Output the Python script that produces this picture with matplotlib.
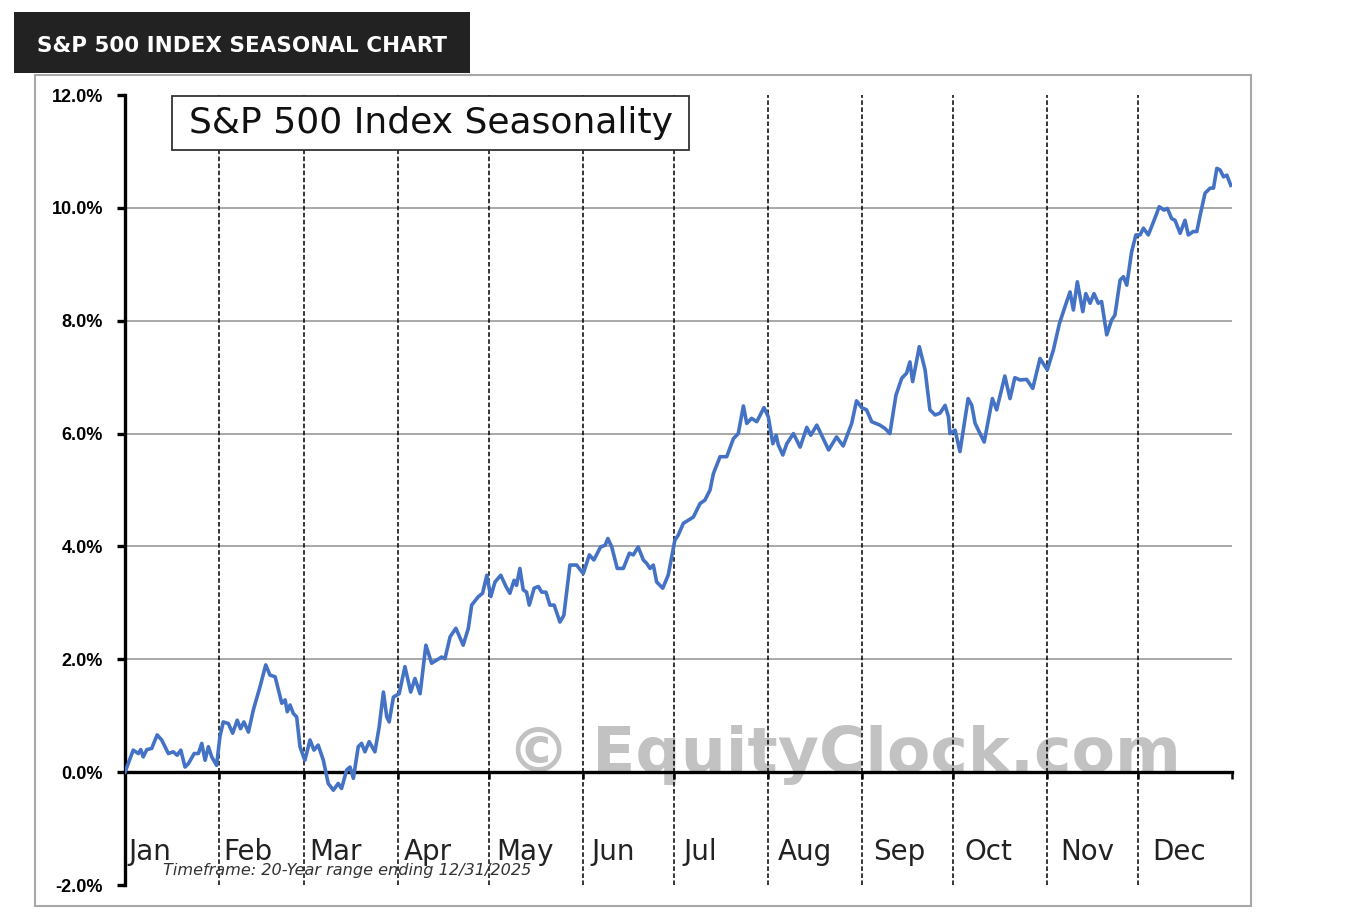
import matplotlib
matplotlib.use("Agg")
import matplotlib.pyplot as plt
from matplotlib.patches import Rectangle

# day of year (0..365) and average seasonal return in %
days = [0, 2.7, 4.4, 5.2, 6.0, 7.2, 8.8, 10.6, 12.1, 14.3, 15.9, 17.2, 18.4, 19.8, 20.9,
        22.8, 24.2, 25.3, 26.4, 27.5, 28.6, 30.2, 31.3, 32.4, 34.1, 35.5, 37.0, 38.1, 39.2,
        40.7, 42.3, 44.5, 46.4, 47.8, 49.5, 51.7, 52.8, 53.5, 54.4, 55.5, 56.6, 57.7, 59.3,
        61.0, 62.3, 63.7, 65.4, 67.0, 68.7, 70.3, 71.4, 73.1, 74.2, 75.3, 76.9, 78.0, 79.1,
        80.5, 82.4, 83.8, 85.2, 86.3, 87.1, 88.5, 90.4, 92.3, 94.2, 95.6, 97.3, 99.2, 101.1,
        104.4, 105.5, 107.2, 109.1, 111.5, 113.2, 114.3, 116.5, 117.9, 119.3, 120.6, 122.0,
        123.9, 125.6, 126.9, 128.3, 129.1, 130.2, 131.3, 132.4, 133.3, 134.9, 136.3, 137.4,
        138.8, 140.1, 141.5, 143.4, 144.7, 146.7, 148.9, 151.1, 153.1, 154.6, 156.8, 158.3,
        159.2, 160.5, 162.3, 164.3, 166.3, 167.6, 169.2, 170.9, 172.0, 173.1, 174.2, 175.3,
        177.3, 179.1, 181.3, 182.4, 184.1, 187.4, 189.6, 191.2, 192.9, 194.0, 196.2, 198.4,
        200.6, 202.2, 203.9, 205.0, 206.6, 208.3, 210.7, 212.1, 213.6, 214.7, 215.4, 216.9,
        218.2, 220.4, 222.6, 224.8, 226.1, 228.1, 229.7, 232.0, 234.6, 236.8, 239.6, 241.2,
        242.9, 244.5, 246.2, 248.9, 250.6, 252.2, 254.2, 256.1, 257.7, 258.8, 259.7, 261.9,
        263.8, 265.4, 267.1, 268.7, 270.4, 271.5, 272.0, 273.7, 275.3, 278.0, 279.2, 280.3,
        283.3, 286.0, 287.4, 290.1, 291.8, 293.4, 295.1, 297.3, 299.3, 301.7, 304.1, 306.1,
        308.1, 310.5, 311.6, 312.7, 314.0, 315.8, 316.8, 318.2, 319.5, 320.9, 322.0, 323.7,
        325.3, 326.4, 328.1, 329.2, 330.3, 331.9, 333.3, 334.7, 335.8, 337.4, 339.1, 341.0,
        342.6, 343.7, 345.1, 346.2, 347.9, 349.5, 350.6, 352.2, 353.4, 354.5, 356.1, 357.8,
        358.9, 360.0, 361.1, 362.2, 363.3, 364.6]
returns = [0.00, 0.39, 0.33, 0.40, 0.27, 0.40, 0.42, 0.66, 0.57, 0.33, 0.36, 0.30, 0.39, 0.09, 0.15,
           0.33, 0.33, 0.51, 0.21, 0.45, 0.27, 0.12, 0.63, 0.89, 0.86, 0.69, 0.92, 0.77, 0.89,
           0.71, 1.10, 1.51, 1.90, 1.72, 1.69, 1.22, 1.28, 1.07, 1.19, 1.04, 0.98, 0.45, 0.21,
           0.57, 0.39, 0.48, 0.21, -0.20, -0.32, -0.20, -0.29, 0.04, 0.09, -0.11, 0.45, 0.51, 0.36,
           0.54, 0.36, 0.80, 1.42, 0.98, 0.89, 1.33, 1.39, 1.87, 1.42, 1.66, 1.39, 2.25, 1.93,
           2.04, 2.01, 2.40, 2.55, 2.25, 2.55, 2.96, 3.11, 3.17, 3.49, 3.11, 3.37,
           3.49, 3.29, 3.17, 3.40, 3.31, 3.61, 3.23, 3.19, 2.96, 3.26, 3.29, 3.19,
           3.19, 2.96, 2.96, 2.66, 2.78, 3.67, 3.67, 3.52, 3.85, 3.76, 3.99, 4.02,
           4.14, 3.99, 3.61, 3.61, 3.88, 3.85, 3.99, 3.76, 3.70, 3.61, 3.67, 3.37,
           3.26, 3.49, 4.11, 4.20, 4.41, 4.52, 4.76, 4.82, 5.00, 5.29, 5.59, 5.59,
           5.91, 6.00, 6.49, 6.18, 6.27, 6.21, 6.46, 6.30, 5.82, 5.97, 5.80, 5.62,
           5.82, 6.00, 5.76, 6.11, 5.97, 6.15, 5.97, 5.71, 5.94, 5.78, 6.18, 6.58,
           6.46, 6.42, 6.21, 6.15, 6.09, 6.00, 6.68, 6.98, 7.07, 7.27, 6.92, 7.54,
           7.13, 6.42, 6.33, 6.36, 6.50, 6.30, 6.00, 6.06, 5.68, 6.62, 6.50, 6.18,
           5.85, 6.62, 6.42, 7.02, 6.62, 6.99, 6.95, 6.96, 6.80, 7.33, 7.13, 7.48,
           7.95, 8.34, 8.51, 8.19, 8.69, 8.16, 8.48, 8.31, 8.48, 8.31, 8.34, 7.75,
           8.01, 8.10, 8.72, 8.78, 8.63, 9.22, 9.52, 9.52, 9.64, 9.52, 9.75, 10.02,
           9.96, 9.99, 9.81, 9.78, 9.55, 9.78, 9.52, 9.58, 9.58, 9.87, 10.26, 10.35,
           10.35, 10.70, 10.67, 10.55, 10.58, 10.40]

months = ["Jan", "Feb", "Mar", "Apr", "May", "Jun", "Jul", "Aug", "Sep", "Oct", "Nov", "Dec"]
month_start = [0, 31, 59, 90, 120, 151, 181, 212, 243, 273, 304, 334]
yticks = [-2, 0, 2, 4, 6, 8, 10, 12]

W, H = 1356, 922
fig = plt.figure(figsize=(W / 100, H / 100), dpi=100)

# pixel box -> figure-fraction rectangle
def px_rect(x0, y0, x1, y1, **kw):
    return Rectangle((x0 / W, 1 - y1 / H), (x1 - x0) / W, (y1 - y0) / H,
                     transform=fig.transFigure, **kw)

# outer frame and header banner
fig.patches.append(px_rect(35, 75, 1251, 906, facecolor="none", edgecolor="#a8a8a8",
                           lw=1.5, zorder=-1))
fig.patches.append(px_rect(14, 12, 470, 73, facecolor="#222222", edgecolor="none"))
fig.text(242 / W, 1 - 46 / H, "S&P 500 INDEX SEASONAL CHART", color="white",
         fontsize=15.5, fontweight="bold", family="DejaVu Sans", ha="center", va="center")

ax = fig.add_axes([125 / W, 1 - 885 / H, (1232 - 125) / W, (885 - 95) / H])
ax.set_xlim(0, 365)
ax.set_ylim(-2, 12)
ax.patch.set_alpha(0)

# gridlines and month separators
for v in yticks:
    if 0 < v < 12:
        ax.axhline(v, color="#999999", lw=1.2, zorder=1)
for d in month_start[1:]:
    ax.axvline(d, color="black", lw=1.1, linestyle=(0, (3, 1.6)), zorder=2)

# watermark
ax.text(237, 0, "\u00a9 EquityClock.com", fontsize=45.5, fontweight="bold",
        color="#c2c2c2", ha="center", va="baseline", family="DejaVu Sans", zorder=1.5)

ax.plot(days, returns, color="#4472C4", lw=2.6, zorder=4, solid_joinstyle="round")

# spines / ticks
ax.spines["right"].set_visible(False)
ax.spines["top"].set_visible(False)
ax.spines["left"].set_linewidth(2.4)
ax.spines["bottom"].set_position(("data", 0))
ax.spines["bottom"].set_linewidth(2.4)
ax.spines["bottom"].set_zorder(3)
ax.set_xticks(month_start + [365])
ax.set_xticklabels([])
ax.tick_params(axis="x", direction="out", length=5, width=1.8)
ax.set_yticks(yticks)
ax.set_yticklabels(["%.1f%%" % v for v in yticks], family="Liberation Sans",
                   fontweight="bold", fontsize=13)
ax.tick_params(axis="y", direction="out", length=5.8, width=2.4, pad=10)

# month labels, nudged a little right of each separator
px_day = (1232 - 125) / 365
for i, (m, d) in enumerate(zip(months, month_start)):
    ax.text(d + (3 + i) / px_day, -1.42, m, fontsize=20, family="DejaVu Sans",
            color="#222222", ha="left", va="center")

ax.text(38 / px_day, -1.75, "Timeframe: 20-Year range ending 12/31/2025", fontsize=11.6,
        style="italic", color="#333333", ha="left", va="center", family="DejaVu Sans")

# chart title box
fig.patches.append(px_rect(172, 96, 689, 150, facecolor="white", edgecolor="#333333",
                           lw=1.3, zorder=5))
fig.text(430.5 / W, 1 - 123 / H, "S&P 500 Index Seasonality", fontsize=26,
         family="DejaVu Sans", color="#111111", ha="center", va="center", zorder=6)

fig.savefig("out.png", dpi=100)
